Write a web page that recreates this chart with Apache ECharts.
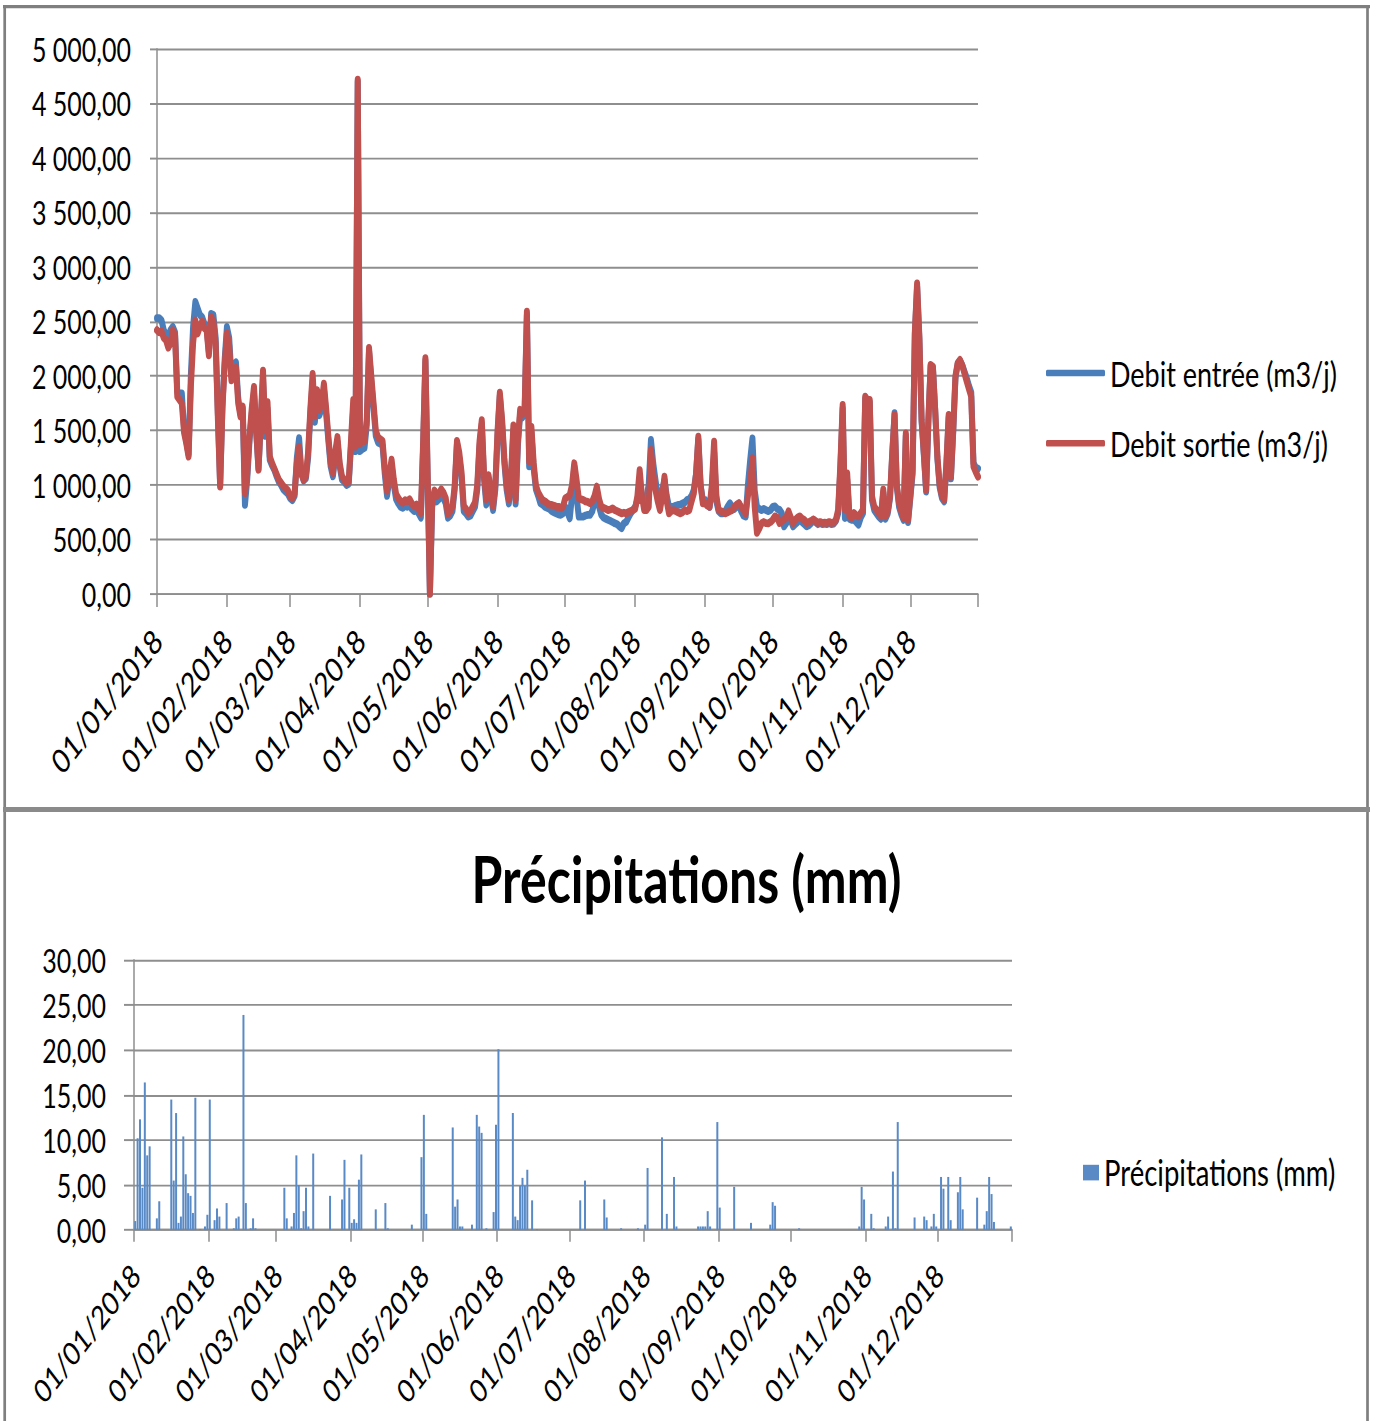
<!DOCTYPE html>
<html>
<head>
<meta charset="utf-8">
<script src="https://cdn.jsdelivr.net/npm/echarts@6/dist/echarts.min.js"></script>
<style>
html, body { margin: 0; padding: 0; background: #fff; overflow: hidden; }
#wrap { width: 1373px; height: 1421px; overflow: hidden; position: relative; background: #fff; }
#chart { width: 1373px; height: 1093px; transform: scaleY(1.3); transform-origin: 0 0; }
</style>
</head>
<body>
<div id="wrap"><div id="chart"></div></div>
<script>
// ---------- categories ----------
const dates = [];
for (let d = new Date(Date.UTC(2018, 0, 1)); d.getUTCFullYear() === 2018; d.setUTCDate(d.getUTCDate() + 1)) {
  const dd = String(d.getUTCDate()).padStart(2, '0');
  const mm = String(d.getUTCMonth() + 1).padStart(2, '0');
  dates.push(dd + '/' + mm + '/2018');
}

const seriesNames = ['Debit entrée (m3/j)', 'Debit sortie (m3/j)', 'Précipitations (mm)'];

// ---------- Debit entrée (m3/j), daily ----------
const debitEntree = [
  // Jan
  2530, 2530, 2510, 2420, 2380, 2360, 2420, 2450, 2400, 1850, 1840, 1840, 1520, 1400, 1280, 2000, 2450, 2680, 2620, 2560, 2540, 2480, 2450, 2220, 2570, 2560, 2350, 1650, 1000, 1720, 2150,
  // Feb
  2450, 2350, 2000, 2100, 2125, 1800, 1650, 1700, 817, 1050, 1400, 1650, 1850, 1480, 1150, 1550, 1980, 1450, 1700, 1230, 1180, 1140, 1080, 1030, 1000, 960, 940, 920,
  // Mar
  880, 860, 900, 1250, 1430, 1120, 1040, 1060, 1250, 1650, 1950, 1580, 1800, 1640, 1700, 1880, 1650, 1400, 1170, 1080, 1260, 1400, 1170, 1050, 1030, 1000, 1010, 1350, 1700, 1310, 4700,
  // Apr
  1310, 1330, 1340, 1550, 2230, 1950, 1700, 1450, 1390, 1380, 1360, 1100, 900, 1050, 1180, 1000, 870, 830, 800, 790, 810, 800, 820, 780, 760, 770, 740, 700, 1350, 2140,
  // May
  1050, 0, 800, 900, 850, 870, 910, 880, 830, 700, 720, 760, 960, 1380, 1250, 1080, 760, 740, 710, 720, 760, 800, 960, 1350, 1560, 1050, 820, 1050, 900, 770, 960,
  // Jun
  1460, 1820, 1560, 1200, 960, 830, 1060, 1500, 830, 1360, 1650, 1620, 1670, 2560, 1170, 1480, 1150, 960, 900, 832, 820, 800, 790, 780, 760, 750, 740, 730, 725, 740,
  // Jul
  800, 750, 694, 900, 1168, 900, 710, 710, 710, 720, 725, 725, 760, 850, 954, 800, 725, 700, 690, 680, 670, 660, 648, 640, 620, 603, 648, 660, 700, 740, 770,
  // Aug
  800, 862, 862, 862, 880, 893, 1000, 1413, 1200, 1046, 900, 862, 950, 1046, 900, 800, 800, 800, 810, 817, 820, 830, 840, 862, 870, 900, 954, 1100, 1420, 1000, 862,
  // Sep
  862, 830, 800, 950, 1300, 850, 760, 740, 740, 760, 800, 832, 800, 780, 800, 832, 760, 720, 710, 1000, 1230, 1428, 950, 800, 780, 770, 780, 770, 760, 770,
  // Oct
  800, 804, 780, 773, 740, 620, 650, 712, 680, 620, 640, 660, 682, 660, 640, 620, 630, 650, 682, 660, 640, 650, 640, 645, 640, 650, 640, 645, 670, 740, 1150,
  // Nov
  1700, 697, 1050, 690, 680, 682, 660, 636, 700, 740, 1790, 1760, 1760, 860, 770, 740, 710, 690, 930, 690, 740, 880, 1280, 1660, 980, 800, 730, 680, 1450, 660,
  // Dec
  880, 1100, 2380, 2820, 2340, 1580, 1270, 940, 1580, 2090, 2080, 1690, 1240, 980, 880, 850, 1180, 1620, 1060, 1480, 1980, 2110, 2140, 2100, 2040, 1980, 1910, 1850, 1200, 1160, 1150
];

// ---------- Debit sortie (m3/j), daily ----------
const debitSortie = [
  // Jan
  2420, 2400, 2410, 2350, 2330, 2260, 2300, 2420, 2380, 1810, 1780, 1750, 1480, 1380, 1260, 1900, 2300, 2510, 2390, 2450, 2500, 2440, 2420, 2190, 2540, 2500, 2300, 1600, 985, 1700, 2100,
  // Feb
  2390, 2280, 1960, 2050, 2080, 1750, 1630, 1720, 925, 1100, 1440, 1700, 1900, 1500, 1140, 1600, 2050, 1500, 1760, 1260, 1200, 1150, 1100, 1050, 1020, 990, 970, 950,
  // Mar
  900, 880, 920, 1200, 1350, 1100, 1050, 1080, 1300, 1700, 2020, 1630, 1870, 1690, 1750, 1930, 1700, 1440, 1200, 1110, 1300, 1440, 1200, 1080, 1050, 1020, 1030, 1400, 1780, 1350, 4720,
  // Apr
  1374, 1420, 1405, 1600, 2258, 2000, 1753, 1500, 1437, 1420, 1405, 1150, 947, 1100, 1232, 1050, 916, 880, 850, 837, 860, 850, 868, 830, 805, 820, 780, 742, 1400, 2163,
  // May
  1100, 0, 850, 950, 900, 920, 960, 930, 880, 730, 760, 800, 1000, 1405, 1300, 1120, 805, 780, 742, 760, 800, 840, 1000, 1400, 1595, 1100, 868, 1090, 950, 805, 1000,
  // Jun
  1500, 1847, 1600, 1247, 1000, 868, 1100, 1547, 868, 1400, 1690, 1650, 1700, 2590, 1216, 1532, 1200, 995, 930, 893, 860, 850, 832, 820, 817, 810, 800, 800, 790, 800,
  // Jul
  878, 890, 908, 1000, 1199, 1050, 878, 870, 862, 850, 845, 832, 850, 900, 985, 870, 800, 790, 780, 770, 775, 786, 770, 760, 750, 740, 745, 740, 750, 760, 770,
  // Aug
  780, 900, 1137, 900, 770, 770, 800, 1321, 1100, 954, 850, 770, 900, 1076, 850, 740, 760, 770, 760, 750, 740, 750, 770, 760, 770, 850, 923, 1100, 1443, 1000, 832,
  // Sep
  832, 810, 800, 1000, 1398, 900, 770, 760, 750, 740, 750, 760, 770, 800, 820, 832, 800, 770, 740, 900, 1015, 1245, 800, 560, 600, 648, 660, 650, 648, 660,
  // Oct
  680, 712, 700, 651, 670, 682, 700, 758, 700, 651, 680, 700, 712, 690, 680, 651, 660, 670, 682, 670, 651, 660, 651, 655, 651, 660, 651, 655, 680, 773, 1200,
  // Nov
  1734, 773, 1107, 712, 700, 743, 720, 712, 740, 773, 1811, 1780, 1780, 896, 800, 773, 740, 712, 957, 712, 760, 900, 1300, 1642, 1000, 834, 760, 697, 1474, 682,
  // Dec
  900, 1138, 2400, 2850, 2361, 1600, 1291, 957, 1600, 2101, 2086, 1700, 1260, 1000, 900, 865, 1200, 1642, 1076, 1500, 2000, 2120, 2147, 2100, 2025, 1950, 1880, 1811, 1168, 1120, 1076
];

// ---------- Précipitations (mm), daily ----------
const precipitations = [
  // Jan
  1.0, 10.2, 12.3, 4.7, 16.4, 8.3, 9.3, 0, 0, 1.3, 3.2, 0, 0, 0, 0, 14.5, 5.5, 13.0, 0.8, 1.5, 10.4, 6.2, 4.1, 3.8, 1.9, 14.7, 0, 0.1, 0, 0.4, 1.7,
  // Feb
  14.5, 0, 1.1, 2.4, 1.5, 0, 0, 3.0, 0, 0, 0.2, 1.3, 1.5, 0, 23.9, 3.0, 0, 0.2, 1.3, 0.2, 0, 0, 0, 0, 0, 0, 0, 0,
  // Mar
  0, 0, 0, 4.7, 1.3, 0, 0.4, 1.9, 8.3, 5.0, 0.2, 2.1, 4.7, 0.4, 0, 8.5, 0, 0, 0, 0, 0, 0, 3.8, 0, 0, 0, 0, 3.4, 7.8, 0, 4.7,
  // Apr
  0.8, 1.2, 0.8, 5.6, 8.4, 0, 0, 0, 0, 0, 2.3, 0, 0, 0, 3.0, 0.2, 0, 0, 0, 0, 0, 0, 0, 0, 0, 0.6, 0, 0, 0, 8.1,
  // May
  12.8, 1.8, 0, 0, 0, 0, 0, 0, 0, 0, 0, 0, 11.4, 2.6, 3.4, 0.4, 0.4, 0, 0, 0, 0.6, 0, 12.8, 11.5, 10.8, 0, 0.2, 0, 0, 2.0, 11.7,
  // Jun
  20.1, 0, 0, 0, 0, 0, 13.0, 1.5, 1.1, 4.9, 5.8, 4.9, 6.7, 0, 3.3, 0, 0.1, 0, 0, 0, 0, 0, 0, 0, 0, 0, 0, 0, 0, 0,
  // Jul
  0, 0, 0, 0, 3.3, 0, 5.5, 0, 0, 0, 0, 0, 0, 0, 3.4, 1.4, 0, 0, 0, 0, 0, 0.2, 0, 0, 0, 0, 0, 0, 0.2, 0, 0,
  // Aug
  0.6, 6.9, 0, 0, 0, 0, 0, 10.3, 0, 1.8, 0, 0, 5.9, 0.4, 0, 0, 0, 0, 0, 0, 0, 0, 0.4, 0.4, 0.4, 0.4, 2.1, 0.4, 0, 0, 12.0,
  // Sep
  2.5, 0, 0, 0, 0, 0, 4.8, 0, 0, 0, 0, 0, 0, 0.8, 0, 0, 0, 0, 0, 0, 0, 0.6, 3.1, 2.7, 0, 0, 0, 0, 0, 0,
  // Oct
  0, 0, 0, 0.2, 0, 0, 0, 0, 0, 0, 0, 0, 0, 0, 0, 0, 0, 0, 0, 0, 0, 0, 0, 0, 0, 0, 0, 0, 0.4, 4.8, 3.4,
  // Nov
  0, 0, 1.8, 0.2, 0, 0, 0, 0, 0.4, 1.5, 0, 6.5, 0.2, 12.0, 0, 0, 0, 0, 0, 0, 1.4, 0, 0, 0, 1.5, 1.1, 0, 0.4, 1.8, 0.4,
  // Dec
  0, 5.9, 4.6, 0, 5.9, 1.1, 0, 0, 4.2, 5.9, 2.3, 0, 0, 0, 0, 0, 3.6, 0, 0, 0.6, 2.1, 5.9, 4.0, 0.9, 0, 0, 0, 0, 0, 0, 0.4
];

// ---------- formatting helpers ----------
function frNumber(v) {
  const s = Number(v).toFixed(2);
  const parts = s.split('.');
  const intPart = parts[0].replace(/\B(?=(\d{3})+(?!\d))/g, ' ');
  return intPart + ',' + parts[1];
}
const isMonthStart = (idx, val) => typeof val === 'string' && val.indexOf('01/') === 0;

const FONT = 'Lato, "Liberation Sans", "DejaVu Sans", sans-serif';
const GRID_COLOR = '#8e8e8e';
const BORDER = '#7f7f7f';

const chart = echarts.init(document.getElementById('chart'), null, { renderer: 'svg', width: 1373, height: 1093 });

const option = {
  animation: false,
  backgroundColor: '#ffffff',
  textStyle: { fontFamily: FONT, color: '#000' },
  title: {
    text: 'Précipitations (mm)',
    left: 'center',
    top: 645,
    textStyle: { fontFamily: FONT, fontSize: 50, fontWeight: 'bold', color: '#000' }
  },
  legend: [
    {
      data: [seriesNames[0], seriesNames[1]],
      orient: 'vertical',
      left: 1041,
      top: 267,
      itemWidth: 59,
      itemHeight: 5,
      itemGap: 24,
      icon: 'roundRect',
      textStyle: { fontFamily: FONT, fontSize: 27, color: '#000', lineHeight: 30 }
    },
    {
      data: [seriesNames[2]],
      orient: 'vertical',
      left: 1078,
      top: 882,
      itemWidth: 16,
      itemHeight: 12,
      icon: 'rect',
      textStyle: { fontFamily: FONT, fontSize: 27.5, color: '#000', lineHeight: 30 }
    }
  ],
  grid: [
    { left: 157, top: 37.7, width: 821, height: 419.2, containLabel: false },
    { left: 134, top: 738.5, width: 878, height: 207.7, containLabel: false }
  ],
  xAxis: [
    {
      type: 'category', gridIndex: 0, data: dates, boundaryGap: false,
      axisLine: { show: true, lineStyle: { color: GRID_COLOR, width: 1.5 } },
      axisTick: { show: true, interval: (i, v) => isMonthStart(i, v) || i === dates.length - 1, length: 10, lineStyle: { color: GRID_COLOR, width: 1.5 } },
      axisLabel: { interval: isMonthStart, rotate: 45, margin: 31, fontFamily: FONT, fontSize: 26, color: '#000' },
      splitLine: { show: false }
    },
    {
      type: 'category', gridIndex: 1, data: dates, boundaryGap: true,
      axisLine: { show: true, lineStyle: { color: GRID_COLOR, width: 1.5 } },
      axisTick: { show: true, interval: isMonthStart, length: 9, lineStyle: { color: GRID_COLOR, width: 1.5 } },
      axisLabel: { interval: isMonthStart, rotate: 45, margin: 30, fontFamily: FONT, fontSize: 25, color: '#000' },
      splitLine: { show: false }
    }
  ],
  yAxis: [
    {
      type: 'value', gridIndex: 0, min: 0, max: 5000, interval: 500,
      axisLine: { show: true, lineStyle: { color: GRID_COLOR, width: 1.5 } },
      axisTick: { show: true, length: 7, lineStyle: { color: GRID_COLOR, width: 1.5 } },
      axisLabel: { formatter: frNumber, margin: 26, fontFamily: FONT, fontSize: 25, color: '#000' },
      splitLine: { show: true, lineStyle: { color: GRID_COLOR, width: 1.5 } }
    },
    {
      type: 'value', gridIndex: 1, min: 0, max: 30, interval: 5,
      axisLine: { show: true, lineStyle: { color: GRID_COLOR, width: 1.5 } },
      axisTick: { show: true, length: 10, lineStyle: { color: GRID_COLOR, width: 1.5 } },
      axisLabel: { formatter: frNumber, margin: 28, fontFamily: FONT, fontSize: 25, color: '#000' },
      splitLine: { show: true, lineStyle: { color: GRID_COLOR, width: 1.5 } }
    }
  ],
  series: [
    {
      name: seriesNames[0], type: 'line', xAxisIndex: 0, yAxisIndex: 0, data: debitEntree,
      showSymbol: false, symbol: 'none', color: '#4a7ebb',
      lineStyle: { color: '#4a7ebb', width: 6, cap: 'round', join: 'round' }
    },
    {
      name: seriesNames[1], type: 'line', xAxisIndex: 0, yAxisIndex: 0, data: debitSortie,
      showSymbol: false, symbol: 'none', color: '#c0504d',
      lineStyle: { color: '#c0504d', width: 6, cap: 'round', join: 'round' }
    },
    {
      name: seriesNames[2], type: 'bar', xAxisIndex: 1, yAxisIndex: 1, data: precipitations,
      barWidth: 2, color: '#4f81bd',
      itemStyle: { color: '#5a8ac6' }
    }
  ],
  graphic: [
    { type: 'line', silent: true, shape: { x1: 3, y1: 5, x2: 1370, y2: 5 }, style: { stroke: BORDER, lineWidth: 2.5 } },
    { type: 'line', silent: true, shape: { x1: 4.7, y1: 4, x2: 4.7, y2: 1093 }, style: { stroke: BORDER, lineWidth: 2.7 } },
    { type: 'line', silent: true, shape: { x1: 1367.5, y1: 4, x2: 1367.5, y2: 1093 }, style: { stroke: BORDER, lineWidth: 2.7 } },
    { type: 'rect', silent: true, shape: { x: 3, y: 620.8, width: 1367, height: 3.8 }, style: { fill: '#8a8a8a' } }
  ]
};

chart.setOption(option);
</script>
</body>
</html>
